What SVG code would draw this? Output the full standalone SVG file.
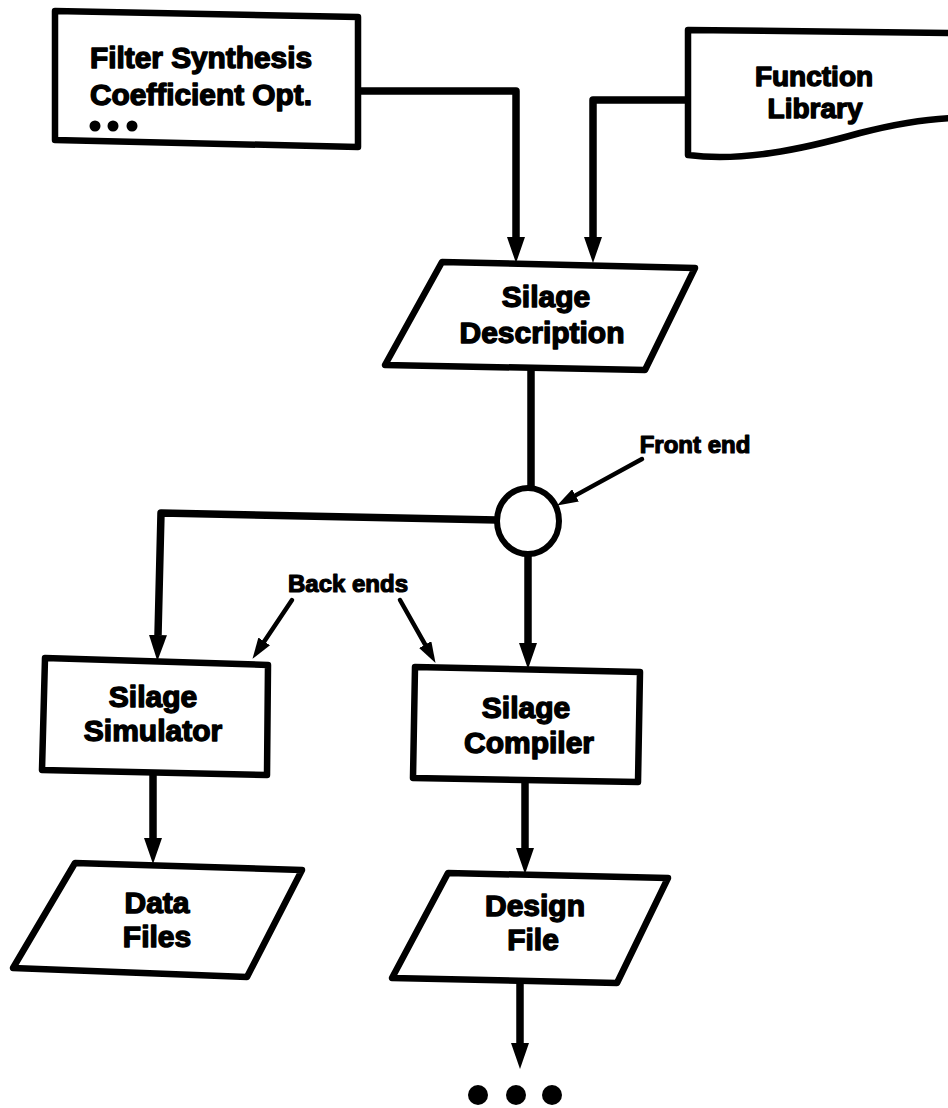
<svg xmlns="http://www.w3.org/2000/svg" width="948" height="1108" viewBox="0 0 948 1108">
<defs>
<style>
.box{fill:#fff;stroke:#000;stroke-width:6.5;stroke-linejoin:round}
.conn{fill:none;stroke:#000;stroke-width:7.5;stroke-linejoin:round}
.ann{fill:none;stroke:#000;stroke-width:4.5;stroke-linecap:round}
.t{font-family:"Liberation Sans",Arial,sans-serif;font-weight:bold;font-size:30px;fill:#000;stroke:#000;stroke-width:1.4;stroke-linejoin:round;text-anchor:middle}
.ts{font-size:24px;stroke-width:1.2}
.dot{fill:#000}
</style>
<marker id="ah" markerUnits="userSpaceOnUse" markerWidth="26" markerHeight="18" refX="0" refY="9" orient="auto" viewBox="0 0 26 18">
<path d="M0,0 L26,9 L0,18 z" fill="#000"/>
</marker>
<marker id="ahs" markerUnits="userSpaceOnUse" markerWidth="21" markerHeight="14" refX="0" refY="7" orient="auto" viewBox="0 0 21 14">
<path d="M0,0 L21,7 L0,14 z" fill="#000"/>
</marker>
</defs>
<rect width="948" height="1108" fill="#fff"/>

<g id="connectors">
<path class="conn" d="M358,91 H516 V237" marker-end="url(#ah)"/>
<path class="conn" d="M688,100 H593 V237" marker-end="url(#ah)"/>
<path class="conn" d="M531,368 V488"/>
<path class="conn" d="M497,520 L161,513 L158,635" marker-end="url(#ah)"/>
<path class="conn" d="M528,555 V643" marker-end="url(#ah)"/>
<path class="conn" d="M153,775 V838" marker-end="url(#ah)"/>
<path class="conn" d="M525,782 V848" marker-end="url(#ah)"/>
<path class="conn" d="M520,983 V1043" marker-end="url(#ah)"/>
<path class="ann" d="M642,459 L575.5,495.4" marker-end="url(#ahs)"/>
<path class="ann" d="M292,600 L264.2,641.4" marker-end="url(#ahs)"/>
<path class="ann" d="M400,600 L425.2,644.6" marker-end="url(#ahs)"/>
</g>

<g id="filter-synthesis">
<path class="box" d="M55,11 L358,17 L358,147 L55,140 Z"/>
<text class="t" x="90" y="68" style="text-anchor:start;font-size:29px" textLength="222" lengthAdjust="spacingAndGlyphs">Filter Synthesis</text>
<text class="t" x="90" y="105" style="text-anchor:start;font-size:29px" textLength="222" lengthAdjust="spacingAndGlyphs">Coefficient Opt.</text>
<circle class="dot" cx="95" cy="126" r="5.5"/>
<circle class="dot" cx="113" cy="126" r="5.5"/>
<circle class="dot" cx="132" cy="126" r="5.5"/>
</g>

<g id="function-library">
<path class="box" d="M952,33 L688,30 L688,155 C740,162 800,150 860,133 C895,124 925,119 952,118"/>
<text class="t" x="814" y="86" style="font-size:28px">Function</text>
<text class="t" x="815" y="118" style="font-size:28px">Library</text>
</g>

<g id="silage-description">
<path class="box" d="M442,262 L695,268 L645,370 L385,365 Z"/>
<text class="t" x="546" y="307">Silage</text>
<text class="t" x="542" y="343">Description</text>
</g>

<g id="front-end">
<ellipse cx="528" cy="521" rx="31" ry="33" fill="#fff" stroke="#000" stroke-width="6"/>
<text class="t ts" x="695" y="453">Front end</text>
</g>

<g id="back-ends-label">
<text class="t ts" x="348" y="592">Back ends</text>
</g>

<g id="silage-simulator">
<path class="box" d="M45,658 L268,665 L267,775 L42,770 Z"/>
<text class="t" x="153" y="707">Silage</text>
<text class="t" x="153" y="741">Simulator</text>
</g>

<g id="silage-compiler">
<path class="box" d="M415,667 L640,672 L638,782 L413,778 Z"/>
<text class="t" x="526" y="718">Silage</text>
<text class="t" x="529" y="753">Compiler</text>
</g>

<g id="data-files">
<path class="box" d="M75,863 L302,870 L247,977 L13,968 Z"/>
<text class="t" x="157" y="913">Data</text>
<text class="t" x="157" y="947">Files</text>
</g>

<g id="design-file">
<path class="box" d="M448,873 L668,878 L617,983 L392,978 Z"/>
<text class="t" x="535" y="916">Design</text>
<text class="t" x="533" y="950">File</text>
</g>

<g id="continuation">
<circle class="dot" cx="478" cy="1095" r="10"/>
<circle class="dot" cx="516" cy="1095" r="10"/>
<circle class="dot" cx="552" cy="1095" r="10"/>
</g>
</svg>
